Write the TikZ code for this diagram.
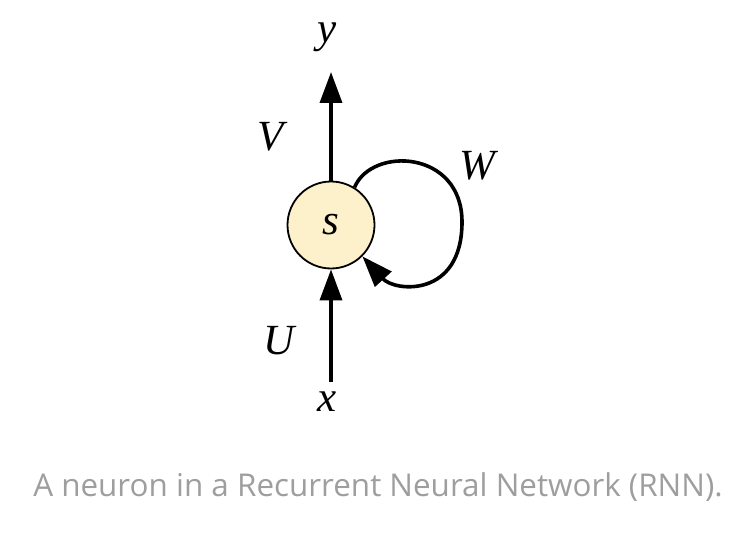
\documentclass[tikz,border=0pt]{standalone}
\usepackage{fontspec}
\setmainfont{Liberation Serif}
\newfontfamily\capfont{Open Sans}
\usetikzlibrary{arrows.meta}
\definecolor{cellfill}{HTML}{FDF1CB}
\definecolor{capgray}{HTML}{9E9E9E}

\begin{document}
\begin{tikzpicture}[x=1pt, y=-1pt,
    wire/.style={line width=3.6pt, -{Triangle[length=31pt, width=22pt]}},
    varlabel/.style={font=\fontsize{43}{45}\selectfont\itshape, inner sep=0pt}]
  \useasboundingbox (0,0) rectangle (756,543);
  \node[circle, draw, line width=1.8pt, fill=cellfill, minimum size=87pt, varlabel] (s) at (331,225) {s};
  \node[varlabel] (y) at (327,37) {y};
  \node[varlabel] (x) at (327,402) {x};
  \node[varlabel] (V) at (271,137) {V};
  \node[varlabel] (U) at (279,341) {U};
  \node[varlabel] (W) at (477,166) {W};
  \coordinate (ytip) at (331,72);
  \coordinate (xfoot) at (331,382);
  \draw[wire] (s) -- (ytip);
  \draw[wire] (xfoot) -- (s);
  \draw[wire] (s.58) .. controls (372,146) and (462,150) .. (462,222)
    .. controls (462,298) and (395,292) .. (s.-45);
  \node[font=\capfont\fontsize{31.4}{34}\selectfont, text=capgray] (caption) at (378,487)
    {A neuron in a Recurrent Neural Network (RNN).};
\end{tikzpicture}
\end{document}
